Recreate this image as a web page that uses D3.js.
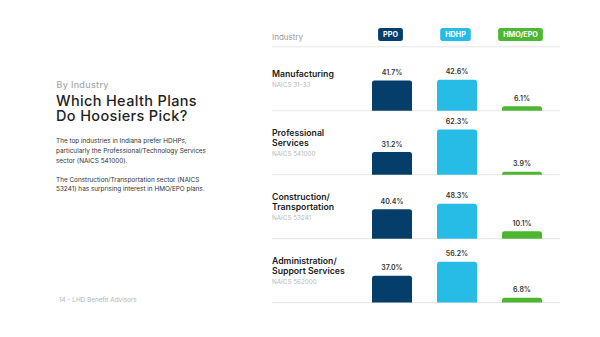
<!DOCTYPE html>
<html><head><meta charset="utf-8">
<script src="https://cdn.jsdelivr.net/npm/d3@7"></script>
<style>
html,body{margin:0;padding:0;background:#fff;}
svg{display:block;}
</style></head>
<body>
<svg id="c" width="600" height="337"></svg>
<script>
// ---- data ----
const industries = ["Manufacturing", "Professional Services", "Construction/Transportation", "Administration/Support Services"];
const industryLines = [["Manufacturing"], ["Professional", "Services"], ["Construction/", "Transportation"], ["Administration/", "Support Services"]];
const naicsCodes = ["NAICS 31–33", "NAICS 541000", "NAICS 53241", "NAICS 562000"];
const plans = ["PPO", "HDHP", "HMO/EPO"];
const ppoValues = [41.7, 31.2, 40.4, 37.0];
const hdhpValues = [42.6, 62.3, 48.3, 56.2];
const hmoValues = [6.1, 3.9, 10.1, 6.8];
const planColors = ["#053e6b", "#27bce5", "#4db731"];

const eyebrow = "By Industry";
const titleLines = ["Which Health Plans", "Do Hoosiers Pick?"];
const para1 = ["The top industries in Indiana prefer HDHPs,", "particularly the Professional/Technology Services", "sector (NAICS 541000)."];
const para2 = ["The Construction/Transportation sector (NAICS", "53241) has surprising interest in HMO/EPO plans."];
const footer = "14 - LHD Benefit Advisors";

const series = [ppoValues, hdhpValues, hmoValues];
const svg = d3.select("#c");
const FONT = "Inter, 'Open Sans', sans-serif";

// ---- left text ----
svg.append("text").attr("x", 56.5).attr("y", 88).text(eyebrow)
  .attr("font-family", FONT).attr("font-size", 9).attr("font-weight", 500)
  .attr("letter-spacing", 0.3).attr("fill", "#a9a9a9");
svg.selectAll(".title").data(titleLines).join("text")
  .attr("x", 56).attr("y", (d, i) => 105.6 + i * 15.8)
  .text(d => d).attr("font-family", FONT).attr("font-size", 14.5)
  .attr("letter-spacing", 0.35)
  .attr("font-weight", 500).attr("fill", "#1f1f1f");
const para = para1.map((t, i) => ({t, y: 143.3 + i * 9.9}))
  .concat(para2.map((t, i) => ({t, y: 181.5 + i * 9.9})));
svg.selectAll(".para").data(para).join("text")
  .attr("x", 56).attr("y", d => d.y).text(d => d.t)
  .attr("font-family", FONT).attr("font-size", 6.4).attr("fill", "#333");
svg.append("text").attr("x", 59).attr("y", 302.3).text(footer)
  .attr("font-family", FONT).attr("font-size", 6.4).attr("fill", "#b5b5b5");

// ---- scales ----
const y = d3.scaleBand().domain(industries).range([46.8, 302.6]);
const x = d3.scalePoint().domain(plans).range([392, 522]);
const h = d3.scaleLinear().domain([0, 100]).range([0, 72.5]);
const barW = 40;

// header
svg.append("text").attr("x", 272).attr("y", 39.5).text("Industry")
  .attr("font-family", FONT).attr("font-size", 8).attr("fill", "#9a9a9a");
const badges = svg.selectAll(".badge").data(plans).join("g")
  .attr("transform", d => `translate(${x(d) - 1.5},34.5)`);
badges.append("text").text(d => d).attr("text-anchor", "middle").attr("dy", "0.36em")
  .attr("font-family", FONT).attr("font-size", 7.2).attr("font-weight", 700).attr("fill", "#fff")
  .each(function () {
    const w = this.getComputedTextLength() + 10;
    d3.select(this.parentNode).insert("rect", "text")
      .attr("x", -w / 2).attr("y", -6.5).attr("width", w).attr("height", 13).attr("rx", 2.5)
      .attr("fill", planColors[plans.indexOf(d3.select(this).text())]);
  });

// separator lines
const lineYs = [y.range()[0]].concat(industries.map(d => y(d) + y.bandwidth()));
svg.selectAll(".sep").data(lineYs).join("line")
  .attr("x1", 272).attr("x2", 560).attr("y1", d => d).attr("y2", d => d)
  .attr("stroke", "#e6e6e6").attr("stroke-width", 1);

// groups
industries.forEach((ind, gi) => {
  const base = y(ind) + y.bandwidth();
  const lines = industryLines[gi];
  const first = base - 37 - (lines.length - 1) * 4.7;
  lines.forEach((ln, li) => {
    svg.append("text").attr("x", 272).attr("y", first + li * 9.4 + 3.2).text(ln)
      .attr("font-family", FONT).attr("font-size", 8.7).attr("font-weight", 600).attr("fill", "#222");
  });
  svg.append("text").attr("x", 272).attr("y", first + (lines.length - 1) * 9.4 + 11 + 2.3)
    .text(naicsCodes[gi]).attr("font-family", FONT).attr("font-size", 6.3).attr("fill", "#b8b8b8");

  plans.forEach((p, pi) => {
    const v = series[pi][gi];
    const bh = h(v), cx = x(p), x0 = cx - barW / 2, top = base - bh;
    const r = Math.min(2.5, bh);
    const path = `M${x0},${base}V${top + r}Q${x0},${top} ${x0 + r},${top}H${x0 + barW - r}Q${x0 + barW},${top} ${x0 + barW},${top + r}V${base}Z`;
    svg.append("path").attr("d", path).attr("fill", planColors[pi]);
    svg.append("text").attr("x", cx).attr("y", top - 5.5).attr("text-anchor", "middle")
      .text(v.toFixed(1) + "%").attr("font-family", FONT).attr("font-size", 7)
      .attr("font-weight", 600).attr("fill", "#333");
  });
});
</script>
</body></html>
